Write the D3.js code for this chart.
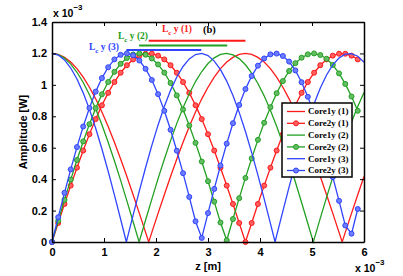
<!DOCTYPE html>
<html>
<head>
<meta charset="utf-8">
<script src="https://cdn.jsdelivr.net/npm/d3@7"></script>
<style>
  body { margin: 0; background: #fff; }
  svg { display: block; }
</style>
</head>
<body>
<script>

// sample positions along z (units of 1e-3 m)
var zGrid = [0, 0.12, 0.24, 0.36, 0.48, 0.6, 0.72, 0.84, 0.96, 1.08,
             1.2, 1.32, 1.44, 1.56, 1.68, 1.8, 1.92, 2.04, 2.16, 2.28,
             2.4, 2.52, 2.64, 2.76, 2.88, 3.0, 3.12, 3.24, 3.36, 3.48,
             3.6, 3.72, 3.84, 3.96, 4.08, 4.2, 4.32, 4.44, 4.56, 4.68,
             4.8, 4.92, 5.04, 5.16, 5.28, 5.4, 5.52, 5.64, 5.76, 5.88, 6.0];

// amplitudes (units of 1e-3 W)
var core1Red = [1.200, 1.194, 1.175, 1.145, 1.103, 1.049, 0.985, 0.911, 0.827, 0.735,
                0.635, 0.528, 0.417, 0.301, 0.182, 0.061, 0.061, 0.182, 0.301, 0.417,
                0.528, 0.635, 0.735, 0.827, 0.911, 0.985, 1.049, 1.103, 1.145, 1.175,
                1.194, 1.200, 1.194, 1.175, 1.145, 1.103, 1.049, 0.985, 0.911, 0.827,
                0.735, 0.635, 0.528, 0.417, 0.301, 0.182, 0.061, 0.061, 0.182, 0.301, 0.417];
var core2Red = [0, 0.121, 0.242, 0.359, 0.473, 0.582, 0.686, 0.782, 0.870, 0.949,
                1.018, 1.077, 1.125, 1.162, 1.186, 1.198, 1.198, 1.186, 1.162, 1.125,
                1.077, 1.018, 0.949, 0.870, 0.782, 0.686, 0.582, 0.473, 0.359, 0.242,
                0.121, 0, 0.121, 0.242, 0.359, 0.473, 0.582, 0.686, 0.782, 0.870,
                0.949, 1.018, 1.077, 1.125, 1.162, 1.186, 1.198, 1.198, 1.186, 1.162];
var core1Green = [1.200, 1.192, 1.170, 1.132, 1.080, 1.015, 0.937, 0.847, 0.746, 0.635,
                  0.517, 0.392, 0.262, 0.129, 0.006, 0.140, 0.273, 0.403, 0.527, 0.645,
                  0.755, 0.854, 0.944, 1.021, 1.085, 1.136, 1.172, 1.194, 1.200, 1.191,
                  1.167, 1.128, 1.075, 1.009, 0.930, 0.839, 0.737, 0.626, 0.507, 0.382,
                  0.251, 0.118, 0.017, 0.152, 0.284, 0.413, 0.537, 0.654, 0.763, 0.862, 0.951];
var core2Green = [0, 0.135, 0.268, 0.397, 0.522, 0.640, 0.750, 0.851, 0.940, 1.018,
                  1.083, 1.134, 1.171, 1.193, 1.200, 1.192, 1.168, 1.130, 1.078, 1.012,
                  0.933, 0.843, 0.741, 0.631, 0.512, 0.387, 0.257, 0.124, 0.011, 0.146,
                  0.279, 0.408, 0.532, 0.650, 0.759, 0.858, 0.947, 1.024, 1.088, 1.138,
                  1.173, 1.194, 1.200, 1.190, 1.166, 1.127, 1.073, 1.006, 0.926, 0.835];
var core1Blue = [1.200, 1.190, 1.159, 1.107, 1.037, 0.949, 0.844, 0.724, 0.592, 0.450,
                 0.300, 0.145, 0.013, 0.171, 0.325, 0.474, 0.615, 0.745, 0.862, 0.965,
                 1.050, 1.117, 1.165, 1.193, 1.200, 1.186, 1.151, 1.097, 1.024, 0.932,
                 0.825, 0.703, 0.569, 0.426, 0.274, 0.118, 0.040, 0.197, 0.351, 0.498,
                 0.637, 0.766, 0.880, 0.980, 1.063, 1.127, 1.171, 1.195, 1.199, 1.182, 1.144];
var core2Blue = [0, 0.158, 0.313, 0.462, 0.604, 0.735, 0.853, 0.957, 1.043, 1.112,
                 1.162, 1.191, 1.200, 1.188, 1.155, 1.102, 1.031, 0.941, 0.835, 0.714,
                 0.581, 0.438, 0.287, 0.132, 0.026, 0.184, 0.338, 0.487, 0.626, 0.756,
                 0.872, 0.973, 1.056, 1.122, 1.168, 1.194, 1.199, 1.184, 1.148, 1.092,
                 1.017, 0.924, 0.815, 0.692, 0.558, 0.413, 0.262, 0.105, 0.053, 0.210];

// points where the Core1y curves touch zero
var core1RedZeros = [1.86, 5.58];
var core1GreenZeros = [1.675, 5.025];
var core1BlueZeros = [1.43, 4.29];

// coupling length bars: start z, end z, level
var lcRed = [1.86, 3.72, 1.28];
var lcGreen = [1.675, 3.37, 1.25];
var lcBlue = [1.43, 2.87, 1.222];

var legendNames = ["Core1y (1)", "Core2y (1)", "Core1y (2)", "Core2y (2)", "Core1y (3)", "Core2y (3)"];
var xTicks = [0, 1, 2, 3, 4, 5, 6];
var xTickLabels = ["0", "1", "2", "3", "4", "5", "6"];
var yTicks = [0, 0.2, 0.4, 0.6, 0.8, 1, 1.2, 1.4];
var yTickLabels = ["0", "0.2", "0.4", "0.6", "0.8", "1", "1.2", "1.4"];


window.onload = function() {
  main();
};


function main() {
  /*
  Builds the svg, scales, axes and plots all curves.
  */

  var param = {width: 403, height: 276};
  var margin = {left: 52, right: 39, top: 22, bottom: 34};

  var colors = {red: "#ff1a1a", green: "#22a022", blue: "#3045ff"};

  var svg = d3.select("body")
              .append("svg")
              .attr("width", param.width)
              .attr("height", param.height);

  var xScale = d3.scaleLinear()
                 .domain([0, 6])
                 .range([margin.left, param.width - margin.right]);
  var yScale = d3.scaleLinear()
                 .domain([0, 1.4])
                 .range([param.height - margin.bottom, margin.top]);

  // series in drawing order
  var series = [
    {name: legendNames[0], color: colors.red, data: joinZeros(core1Red, core1RedZeros), marker: false},
    {name: legendNames[1], color: colors.red, data: pairUp(core2Red), marker: true},
    {name: legendNames[2], color: colors.green, data: joinZeros(core1Green, core1GreenZeros), marker: false},
    {name: legendNames[3], color: colors.green, data: pairUp(core2Green), marker: true},
    {name: legendNames[4], color: colors.blue, data: joinZeros(core1Blue, core1BlueZeros), marker: false},
    {name: legendNames[5], color: colors.blue, data: pairUp(core2Blue), marker: true}
  ];

  plotCurves(svg, series, xScale, yScale);
  axesMaker(svg, param, margin, xScale, yScale);
  lcMaker(svg, xScale, yScale, colors);
  legendMaker(svg, series);
};


function pairUp(values) {
  /*
  Couples the amplitude list to the z grid.
  */
  return values.map(function(v, i) {
    return [zGrid[i], v];
  });
};


function joinZeros(values, zeros) {
  /*
  Adds the read zero points to a curve and sorts on z.
  */
  var points = pairUp(values);
  zeros.forEach(function(z) {
    points.push([z, 0]);
  });
  points.sort(function(a, b) { return a[0] - b[0]; });
  return points;
};


function plotCurves(svg, series, xScale, yScale) {
  /*
  Draws every curve, and markers for the Core2y ones.
  */
  var line = d3.line()
               .x(function(d) { return xScale(d[0]); })
               .y(function(d) { return yScale(d[1]); });

  series.forEach(function(s) {
    svg.append("path")
       .datum(s.data)
       .attr("fill", "none")
       .attr("stroke", s.color)
       .attr("stroke-width", 1.3)
       .attr("d", line);

    if (s.marker) {
      svg.append("g")
         .selectAll("circle")
         .data(s.data)
         .enter()
         .append("circle")
         .attr("cx", function(d) { return xScale(d[0]); })
         .attr("cy", function(d) { return yScale(d[1]); })
         .attr("r", 2.5)
         .attr("fill", d3.interpolateRgb(s.color, "#fff")(0.3))
         .attr("stroke", s.color)
         .attr("stroke-width", 1);
    };
  });
};


function axesMaker(svg, param, margin, xScale, yScale) {
  /*
  Box axes with inward ticks, labels and exponent notes.
  */
  var bottom = param.height - margin.bottom;
  var right = param.width - margin.right;
  var font = "'Liberation Sans', Arial, Helvetica, sans-serif";

  var xAxis = d3.axisBottom(xScale).tickValues(xTicks).tickSizeInner(-4).tickSizeOuter(0).tickPadding(6)
                .tickFormat(function(d, i) { return xTickLabels[i]; });
  var yAxis = d3.axisLeft(yScale).tickValues(yTicks).tickSizeInner(-4).tickSizeOuter(0).tickPadding(5)
                .tickFormat(function(d, i) { return yTickLabels[i]; });
  var xTop = d3.axisTop(xScale).tickValues(xTicks).tickSizeInner(-4).tickSizeOuter(0).tickFormat("");
  var yRight = d3.axisRight(yScale).tickValues(yTicks).tickSizeInner(-4).tickSizeOuter(0).tickFormat("");

  var gx = svg.append("g").attr("transform", "translate(0," + bottom + ")").call(xAxis);
  var gy = svg.append("g").attr("transform", "translate(" + margin.left + ",0)").call(yAxis);
  var gt = svg.append("g").attr("transform", "translate(0," + margin.top + ")").call(xTop);
  var gr = svg.append("g").attr("transform", "translate(" + right + ",0)").call(yRight);

  [gx, gy, gt, gr].forEach(function(g) {
    g.attr("font-family", font)
     .attr("font-size", 11)
     .attr("font-weight", "bold");
    g.selectAll("text").attr("fill", "#000");
    g.select(".domain").attr("stroke", "#000").attr("stroke-width", 1.5);
    g.selectAll(".tick line").attr("stroke", "#000").attr("stroke-width", 1);
  });

  // axis labels
  svg.append("text")
     .attr("x", (margin.left + right) / 2)
     .attr("y", 270)
     .attr("text-anchor", "middle")
     .attr("font-family", font)
     .attr("font-size", 11)
     .attr("font-weight", "bold")
     .text("z [m]");

  svg.append("text")
     .attr("transform", "rotate(-90)")
     .attr("x", -(margin.top + bottom) / 2)
     .attr("y", 27)
     .attr("text-anchor", "middle")
     .attr("font-family", font)
     .attr("font-size", 11)
     .attr("font-weight", "bold")
     .text("Amplitude [W]");

  // exponent notes
  exponent(svg, font, margin.left + 1, 17);
  exponent(svg, font, 355, 272);
};


function exponent(svg, font, x, y) {
  /*
  Writes "x 10^-3" with a raised exponent.
  */
  var t = svg.append("text")
             .attr("x", x)
             .attr("y", y)
             .attr("font-family", font)
             .attr("font-size", 10.5)
             .attr("font-weight", "bold");
  t.append("tspan").text("x 10");
  t.append("tspan").attr("dy", -7).attr("font-size", 8).text("\u22123");
};


function lcMaker(svg, xScale, yScale, colors) {
  /*
  Coupling length bars with their labels.
  */
  var serif = "'Liberation Serif', 'Times New Roman', serif";
  var bars = [[lcRed, colors.red], [lcGreen, colors.green], [lcBlue, colors.blue]];

  bars.forEach(function(b) {
    svg.append("line")
       .attr("x1", xScale(b[0][0]))
       .attr("x2", xScale(b[0][1]))
       .attr("y1", yScale(b[0][2]))
       .attr("y2", yScale(b[0][2]))
       .attr("stroke", b[1])
       .attr("stroke-width", 2);
  });

  var labels = [
    {x: 162, y: 32, color: colors.red, num: "1"},
    {x: 118, y: 39, color: colors.green, num: "2"},
    {x: 89, y: 50, color: colors.blue, num: "3"}
  ];
  labels.forEach(function(l) {
    var t = svg.append("text")
               .attr("x", l.x)
               .attr("y", l.y)
               .attr("font-family", serif)
               .attr("font-size", 9.5)
               .attr("font-weight", "bold")
               .attr("fill", l.color);
    t.append("tspan").text("L");
    t.append("tspan").attr("dy", 2.5).attr("font-size", 7).text("c");
    t.append("tspan").attr("dy", -2.5).text(" y (" + l.num + ")");
  });

  svg.append("text")
     .attr("x", 203)
     .attr("y", 33)
     .attr("font-family", serif)
     .attr("font-size", 10.5)
     .attr("font-weight", "bold")
     .text("(b)");
};


function legendMaker(svg, series) {
  /*
  Boxed legend at the right side of the plot.
  */
  var serif = "'Liberation Serif', 'Times New Roman', serif";
  var box = {x: 282, y: 103, w: 70, h: 74};
  var step = 11.8;

  var g = svg.append("g");
  g.append("rect")
   .attr("x", box.x)
   .attr("y", box.y)
   .attr("width", box.w)
   .attr("height", box.h)
   .attr("fill", "#fff")
   .attr("stroke", "#000")
   .attr("stroke-width", 1.5);

  series.forEach(function(s, i) {
    var y = box.y + 8.5 + i * step;
    g.append("line")
     .attr("x1", box.x + 5)
     .attr("x2", box.x + 23)
     .attr("y1", y)
     .attr("y2", y)
     .attr("stroke", s.color)
     .attr("stroke-width", 1.3);
    if (s.marker) {
      g.append("circle")
       .attr("cx", box.x + 14)
       .attr("cy", y)
       .attr("r", 2.5)
       .attr("fill", d3.interpolateRgb(s.color, "#fff")(0.3))
       .attr("stroke", s.color);
    };
    g.append("text")
     .attr("x", box.x + 26)
     .attr("y", y)
     .attr("dy", "0.33em")
     .attr("font-family", serif)
     .attr("font-size", 9)
     .attr("font-weight", "bold")
     .text(s.name);
  });
};

</script>
</body>
</html>
